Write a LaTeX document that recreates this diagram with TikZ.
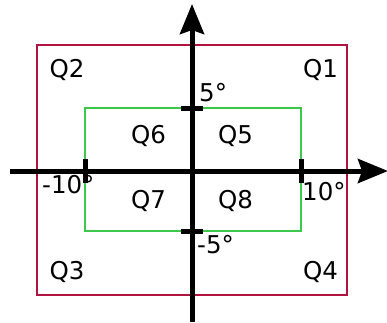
\documentclass[tikz,border=0pt]{standalone}
\usepackage{fontspec}
\setmainfont{DejaVu Sans}
\usetikzlibrary{arrows.meta}
\definecolor{outerred}{HTML}{B2123F}
\definecolor{innergreen}{HTML}{3CC84A}
\newcommand{\lblfont}{\fontsize{24.5pt}{28pt}\selectfont}
\tikzset{
  lbl/.style={inner sep=0pt, font=\lblfont, anchor=base},
  deg/.style={inner sep=0pt, font=\lblfont, anchor=base west},
  axis/.style={line width=5pt, -{Stealth[length=30pt,width=24pt,inset=4pt]}},
  tick/.style={line width=5pt},
  outerbox/.style={draw=outerred, line width=2.5pt},
  innerbox/.style={draw=innergreen, line width=1.8pt},
}
\begin{document}
\begin{tikzpicture}[x=1pt,y=-1pt]
\useasboundingbox (0,0) rectangle (387,322);
\draw[outerbox] (37,45) rectangle (347,295);
\draw[innerbox] (85,108) rectangle (301,231);
\coordinate (xs) at (10,171);
\coordinate (xe) at (388,171);
\coordinate (ys) at (192,322);
\coordinate (ye) at (192,4);
\draw[axis] (xs) -- (xe);
\draw[axis] (ys) -- (ye);
\coordinate (t1a) at (85,159); \coordinate (t1b) at (85,183);
\coordinate (t2a) at (301,159); \coordinate (t2b) at (301,183);
\coordinate (t3a) at (181,108); \coordinate (t3b) at (203,108);
\coordinate (t4a) at (181,231); \coordinate (t4b) at (203,231);
\draw[tick] (t1a) -- (t1b);
\draw[tick] (t2a) -- (t2b);
\draw[tick] (t3a) -- (t3b);
\draw[tick] (t4a) -- (t4b);
\node[lbl] (q2) at (67,77.5) {Q2};
\node[lbl] (q1) at (320.5,77.5) {Q1};
\node[lbl] (q6) at (148.5,143) {Q6};
\node[lbl] (q5) at (235.5,143) {Q5};
\node[lbl] (q7) at (148.5,208) {Q7};
\node[lbl] (q8) at (235.5,208) {Q8};
\node[lbl] (q3) at (67,279) {Q3};
\node[lbl] (q4) at (320.5,279) {Q4};
\node[deg] (p5) at (199,101.5) {5°};
\node[deg] (m10) at (42,193) {-10°};
\node[deg] (p10) at (302,200) {10°};
\node[deg] (m5) at (197,253) {-5°};
\end{tikzpicture}
\end{document}
